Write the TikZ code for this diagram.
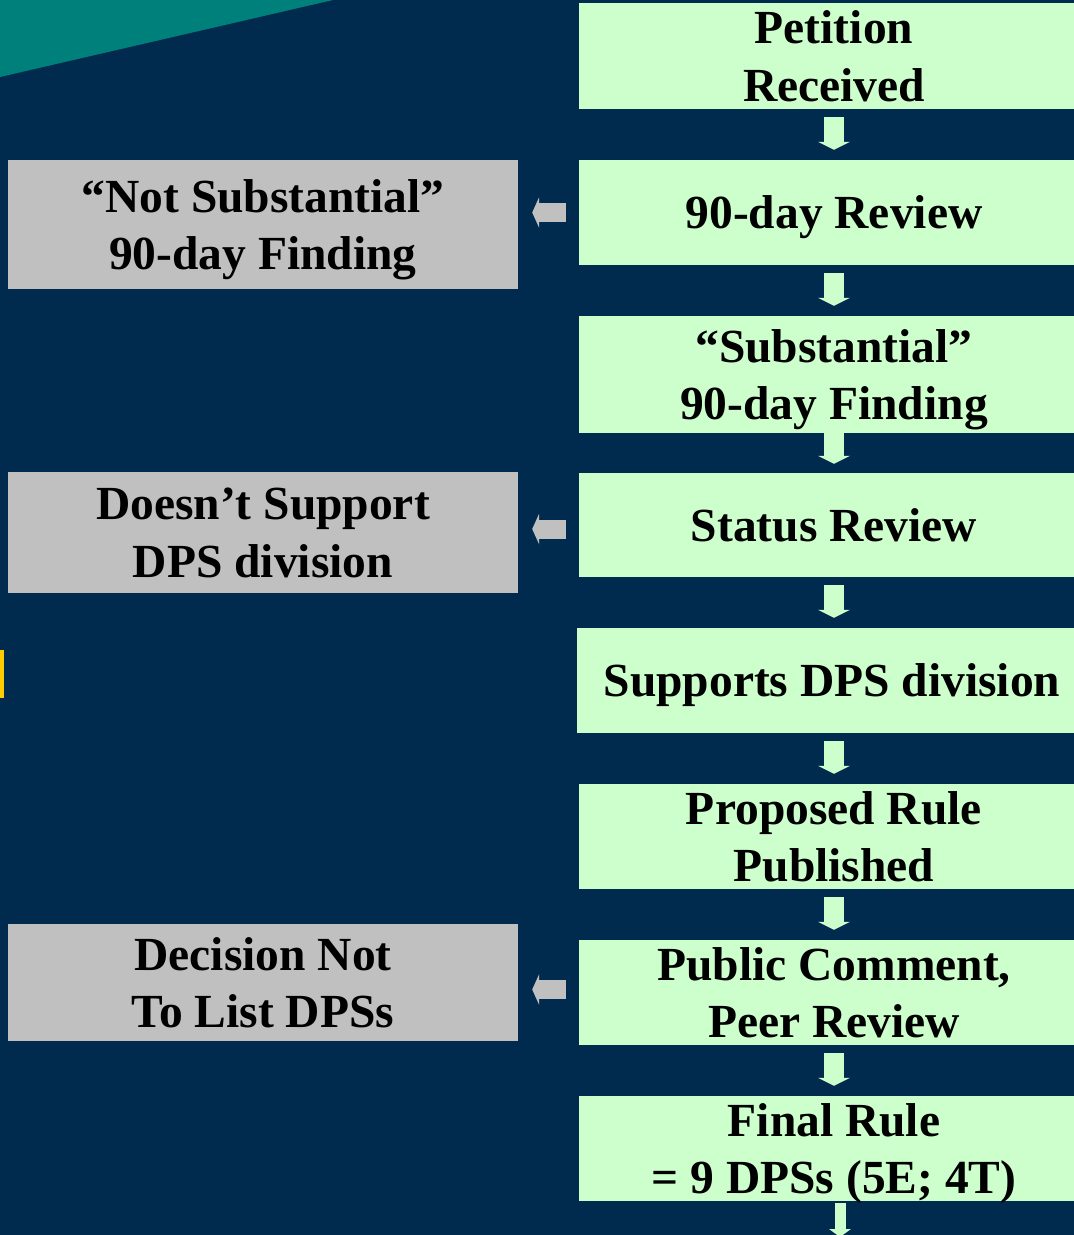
\documentclass[tikz,border=0pt]{standalone}
\usepackage{fontspec}
\setmainfont{Liberation Serif}
\usetikzlibrary{arrows.meta}

\definecolor{navy}{RGB}{0,42,78}
\definecolor{slideteal}{RGB}{0,128,122}
\definecolor{boxgreen}{RGB}{204,255,204}
\definecolor{boxgray}{RGB}{192,192,192}
\definecolor{markyellow}{RGB}{255,204,0}

\tikzset{
	boxtext/.style={inner sep=0pt, minimum width=510pt, align=center, text=black, text depth=-5pt,
		font=\bfseries\fontsize{47.5}{57.5}\selectfont},
	stepbox/.style={boxtext, fill=boxgreen},
	sidebox/.style={boxtext, fill=boxgray},
	down/.style={draw=boxgreen, line width=20pt, shorten <=8pt, shorten >=10pt,
		-{Triangle[width=32pt 0,length=8pt 0,line width=0pt 0]}},
	aside/.style={draw=boxgray, line width=19pt, shorten <=13pt, shorten >=14pt,
		-{Triangle[width=31pt 0,length=7pt 0,line width=0pt 0]}},
	exitarrow/.style={draw=boxgreen, line width=11pt, shorten <=2pt,
		-{Triangle[width=22pt 0,length=8pt 0,line width=0pt 0]}}
}

\begin{document}
\begin{tikzpicture}[x=1pt,y=-1pt]
	\useasboundingbox (0,0) rectangle (1074,1235);
	\clip (0,0) rectangle (1074,1235);
	\fill[navy] (0,0) rectangle (1074,1235);
	\fill[slideteal] (0,0) -- (333,0) -- (0,77) -- cycle;
	\fill[markyellow] (0,650) rectangle (4,698);

	% main track
	\node[stepbox, minimum height=106pt] (petition) at (834,56) {Petition\\Received};
	\node[stepbox, minimum height=105pt] (review) at (834,212.5) {90-day Review};
	\node[stepbox, minimum height=117pt] (substantial) at (834,374.5) {“Substantial”\\90-day Finding};
	\node[stepbox, minimum height=104pt] (status) at (834,525) {Status Review};
	\node[stepbox, minimum height=105pt] (supports) at (832,680.5) {Supports DPS division};
	\node[stepbox, minimum height=105pt] (proposed) at (834,836.5) {Proposed Rule\\Published};
	\node[stepbox, minimum height=105pt] (comment) at (834,992.5) {Public Comment,\\Peer Review};
	\node[stepbox, minimum height=105pt] (final) at (834,1148.5) {Final Rule\\= 9 DPSs (5E; 4T)};
	\coordinate (exit) at (840,1237);

	% side results
	\node[sidebox, minimum height=129pt] (notsubst) at (263,224.5) {“Not Substantial”\\90-day Finding};
	\node[sidebox, minimum height=121pt] (nosupport) at (263,532.5) {Doesn’t Support\\DPS division};
	\node[sidebox, minimum height=117pt] (nolist) at (263,982.5) {Decision Not\\To List DPSs};

	\draw[down] (petition) -- (review);
	\draw[down] (review) -- (substantial);
	\draw[down, shorten <=-3pt, shorten >=9pt] (substantial) -- (status);
	\draw[down] (status) -- (supports.north -| status.south);
	\draw[down] (supports.south -| status.south) -- (proposed);
	\draw[down] (proposed) -- (comment);
	\draw[down] (comment) -- (final);
	\draw[exitarrow] ([xshift=6pt]final.south) -- (exit);

	\draw[aside] (review.west) -- (review.west -| notsubst.east);
	\draw[aside] ([yshift=-4pt]status.west) -- ([yshift=-4pt]status.west -| nosupport.east);
	\draw[aside] ([yshift=3pt]comment.west) -- ([yshift=3pt]comment.west -| nolist.east);
\end{tikzpicture}
\end{document}
